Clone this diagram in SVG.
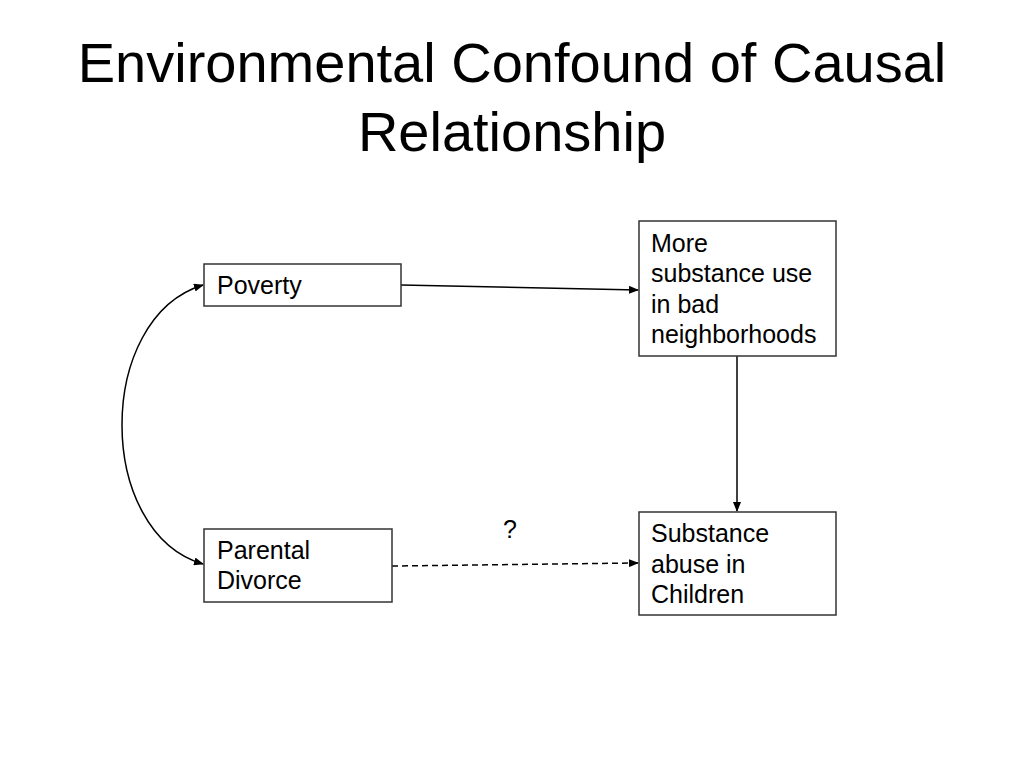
<svg xmlns="http://www.w3.org/2000/svg" width="1024" height="768" viewBox="0 0 1024 768">
<style>
.box{fill:#fff;stroke:#333;stroke-width:1.5}
.t{font-family:"Liberation Sans",Arial,sans-serif;font-size:25px;fill:#000}
.title{font-family:"Liberation Sans",Arial,sans-serif;font-size:56px;fill:#000;text-anchor:middle}
.c{fill:none;stroke:#000;stroke-width:1.5}
</style>
<defs>
<marker id="ah" markerWidth="10" markerHeight="8" refX="9" refY="4" orient="auto" markerUnits="userSpaceOnUse">
<path d="M0,0 L10,4 L0,8 Z" fill="#000"/>
</marker>
</defs>
<rect width="1024" height="768" fill="#fff"/>
<text class="title" x="512" y="82">Environmental Confound of Causal</text>
<text class="title" x="512" y="151">Relationship</text>
<g id="connectors">
<path class="c" d="M401,285 L638,290" marker-end="url(#ah)"/>
<path class="c" d="M737,356 L737,511" marker-end="url(#ah)"/>
<path class="c" d="M392,566 L638,563" stroke-dasharray="6,4" marker-end="url(#ah)"/>
<path class="c" d="M203,285 C95,318 95,532 203,564" marker-start="url(#ahs)" marker-end="url(#ah)"/>
<text class="t" x="503" y="538">?</text>
</g>
<defs>
<marker id="ahs" markerWidth="10" markerHeight="8" refX="9" refY="4" orient="auto-start-reverse" markerUnits="userSpaceOnUse">
<path d="M0,0 L10,4 L0,8 Z" fill="#000"/>
</marker>
</defs>
<g id="poverty">
<rect class="box" x="204" y="264" width="197" height="42"/>
<text class="t" x="217" y="294">Poverty</text>
</g>
<g id="more-substance">
<rect class="box" x="639" y="221" width="197" height="135"/>
<text class="t" x="651" y="252">More</text>
<text class="t" x="651" y="282">substance use</text>
<text class="t" x="651" y="313">in bad</text>
<text class="t" x="651" y="343">neighborhoods</text>
</g>
<g id="parental-divorce">
<rect class="box" x="204" y="529" width="188" height="73"/>
<text class="t" x="217" y="559">Parental</text>
<text class="t" x="217" y="589">Divorce</text>
</g>
<g id="substance-abuse">
<rect class="box" x="639" y="512" width="197" height="103"/>
<text class="t" x="651" y="542">Substance</text>
<text class="t" x="651" y="573">abuse in</text>
<text class="t" x="651" y="603">Children</text>
</g>
</svg>
